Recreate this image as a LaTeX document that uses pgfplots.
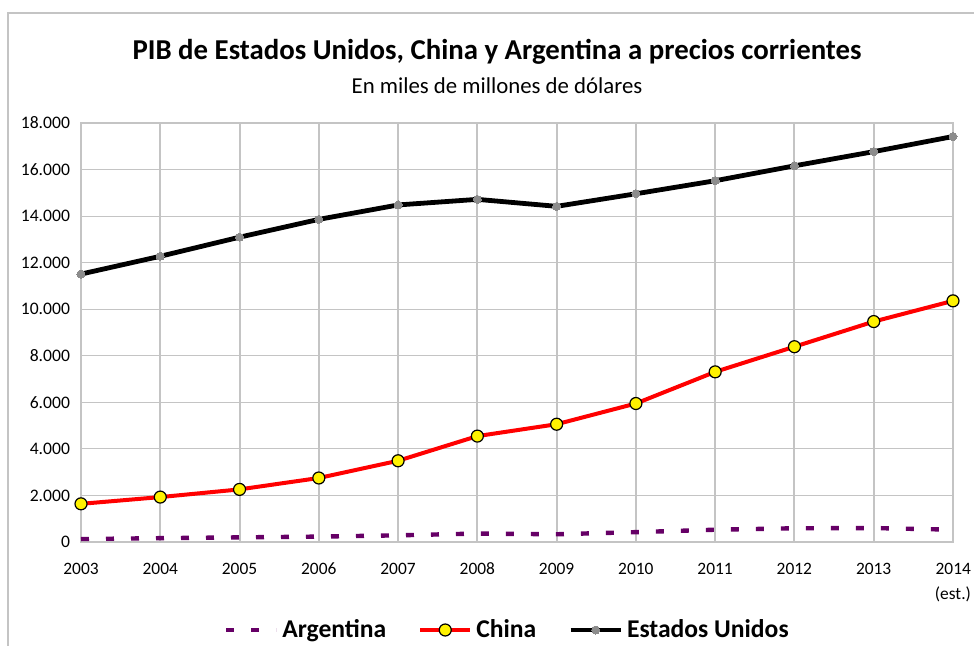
\documentclass[border=0pt]{standalone}
\usepackage{pgfplots}
\pgfplotsset{compat=1.18}
\usepackage{fontspec}
\setmainfont{Carlito}
\definecolor{argpurple}{HTML}{660066}
\definecolor{gridgray}{HTML}{C4C4C4}
\definecolor{markgray}{HTML}{8C8C8C}
\begin{document}
\begin{tikzpicture}
\useasboundingbox (-40.5pt,-51.5pt) rectangle (446.5pt,271pt);
\draw[gridgray, line width=0.7pt] (-36.5pt,-52pt) -- (-36.5pt,264.5pt) -- (447pt,264.5pt);
\node[font=\bfseries\fontsize{14.4}{16}\selectfont] at (208pt,245pt) {PIB de Estados Unidos, China y Argentina a precios corrientes};
\node[font=\fontsize{11.4}{13}\selectfont] at (208pt,228pt) {En miles de millones de dólares};
\begin{axis}[
  at={(0pt,0pt)}, anchor=south west,
  scale only axis, width=436pt, height=209.5pt,
  xmin=2003, xmax=2014, ymin=0, ymax=18000,
  xtick={2003,...,2014},
  xticklabels={{\vphantom{(}2003},{\vphantom{(}2004},{\vphantom{(}2005},{\vphantom{(}2006},{\vphantom{(}2007},{\vphantom{(}2008},{\vphantom{(}2009},{\vphantom{(}2010},{\vphantom{(}2011},{\vphantom{(}2012},{\vphantom{(}2013},{\vphantom{(}2014\\(est.)}},
  xticklabel style={align=right, font=\fontsize{8.7}{12.5}\selectfont, yshift=-6.5pt},
  ytick={0,2000,...,18000},
  yticklabel style={font=\fontsize{8.8}{10}\selectfont, xshift=-2pt},
  /pgf/number format/.cd, 1000 sep={.}, assume math mode=true,
  /pgfplots/.cd,
  scaled y ticks=false,
  major tick length=0pt,
  grid=major,
  x grid style={gridgray, line width=1pt},
  y grid style={gridgray, line width=0.5pt},
  axis line style={gridgray, line width=0.7pt},
  clip=false,
  legend columns=3,
  legend style={at={(rel axis cs:0.49,-0.21)}, anchor=center, draw=none, fill=none,
    font=\bfseries\fontsize{12.8}{14}\selectfont,
    nodes={inner xsep=2pt},
    /tikz/every even column/.append style={column sep=14pt}},
  legend cell align=left,
  legend image code/.code={\draw[#1] (0pt,0pt) -- (25pt,0pt); \draw[#1, only marks] plot coordinates {(12.5pt,0pt)};},
]
\addplot[argpurple, line width=2.2pt, dash pattern=on 4pt off 8.5pt, mark=none] coordinates {
 (2003,127) (2004,165) (2005,199) (2006,232) (2007,287) (2008,363) (2009,333) (2010,424) (2011,528) (2012,590) (2013,600) (2014,530)};
\addlegendentry{Argentina}
\addplot[red, line width=2pt, mark=*, mark size=3pt, mark options={fill=yellow, draw=black, line width=0.6pt, solid}] coordinates {
 (2003,1640) (2004,1930) (2005,2260) (2006,2750) (2007,3490) (2008,4550) (2009,5060) (2010,5950) (2011,7310) (2012,8390) (2013,9470) (2014,10360)};
\addlegendentry{China}
\addplot[black, line width=2.4pt, mark=*, mark size=2pt, mark options={fill=markgray, draw=markgray, line width=0pt}] coordinates {
 (2003,11510) (2004,12275) (2005,13095) (2006,13860) (2007,14480) (2008,14720) (2009,14420) (2010,14960) (2011,15520) (2012,16160) (2013,16770) (2014,17420)};
\addlegendentry{Estados Unidos}
\end{axis}
\end{tikzpicture}
\end{document}
